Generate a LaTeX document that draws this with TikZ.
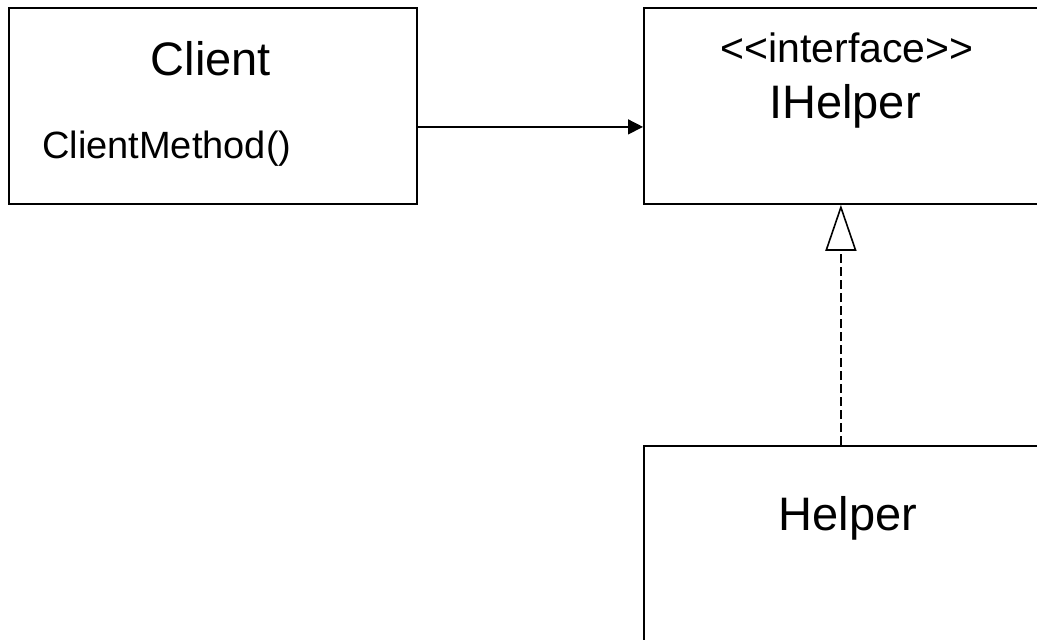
\documentclass[tikz,border=0pt]{standalone}
\usepackage{fontspec}
\setmainfont{Liberation Sans}
\usetikzlibrary{arrows.meta,positioning}

\begin{document}
\begin{tikzpicture}[
  x=1pt, y=-1pt,
  classbox/.style={rectangle, draw=black, line width=1.8pt, fill=white, anchor=north west, inner sep=0pt},
  classname/.style={anchor=base, inner sep=0pt, font=\fontsize{47}{50}\selectfont},
  member/.style={anchor=base, inner sep=0pt, font=\fontsize{38}{40}\selectfont},
  assoc/.style={-{Triangle[length=15pt, width=15pt]}, line width=1.4pt},
  realize/.style={-{Triangle[open, length=46pt, width=31pt, line width=1.6pt]}, line width=1.5pt, dash pattern=on 9pt off 4pt}
]
\useasboundingbox (0,0) rectangle (1037,640);

% boxes
\node[classbox, minimum width=408pt, minimum height=196pt] (client) at (8,7) {};
\node[classbox, minimum width=420pt, minimum height=196pt] (ihelper) at (643,7) {};
\node[classbox, minimum width=420pt, minimum height=240pt] (helper) at (643,445) {};

% texts
\node[classname] (clientname) at (211,75) {Client};
\node[member, anchor=base west] (clientmethod) at (42,158) {ClientMethod()};
\node[member, font=\fontsize{41}{44}\selectfont] (stereo) at (847,62) {<{}<interface>{}>};
\node[classname] (ihelpername) at (845,118) {IHelper};
\node[classname] (helpername) at (848,530) {Helper};

% connectors
\draw[assoc] ([yshift=-21pt]client.east) -- ([yshift=-21pt]ihelper.west);
\draw[realize] ([xshift=-13pt]helper.north) -- ([xshift=-13pt]ihelper.south);
\end{tikzpicture}
\end{document}
